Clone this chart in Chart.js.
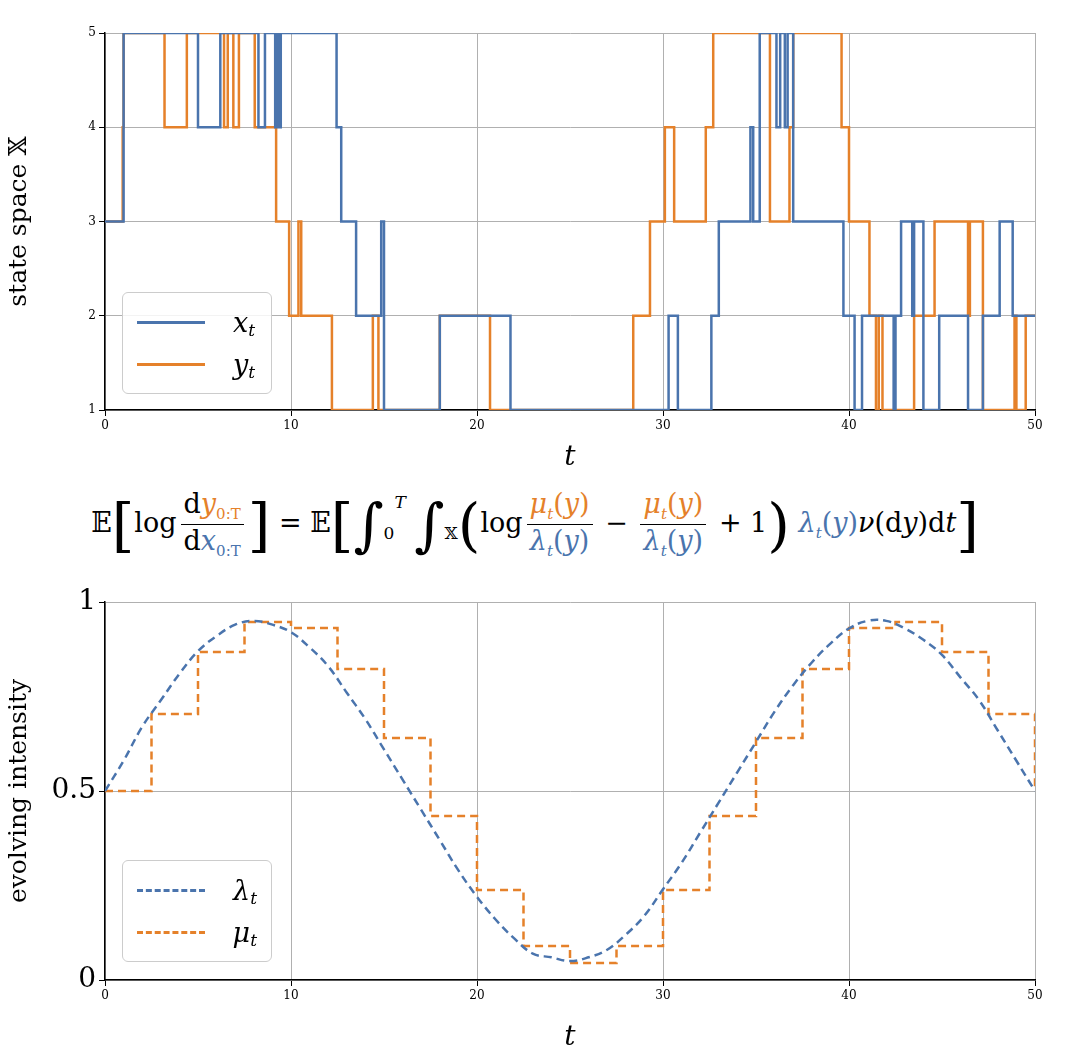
<!DOCTYPE html>
<html><head><meta charset="utf-8">
<script src="https://cdn.jsdelivr.net/npm/chart.js@4"></script>
<style>
body{margin:0;background:#fff;font-family:"DejaVu Serif","Liberation Serif",serif;}
#wrap{position:relative;width:1070px;height:1055px;}
canvas{position:absolute;left:0;}
.legend{position:absolute;border:1.5px solid #ccc;border-radius:6px;background:rgba(255,255,255,0.85);padding:8px 14px;font-size:27px;font-style:italic;}
.legend div{display:flex;align-items:center;height:42px;}
.legend span.l{display:inline-block;width:68px;height:0;border-top:3px solid;margin-right:28px;}
.legend sub{font-size:17px;position:relative;top:8px;}
#eq{position:absolute;top:488px;left:0;width:1070px;text-align:center;font-size:27px;line-height:1;}
.fr{display:inline-block;vertical-align:middle;text-align:center;margin:0 4px;}
.fr span{display:block;padding:2px 3px;}
.fr .n{border-bottom:1.5px solid #000;}
.b{color:#4a74ad}.o{color:#e5812a}
.big{font-size:58px;vertical-align:middle;font-weight:100}
</style></head>
<body><div id="wrap">
<canvas id="top" width="1070" height="475" style="top:0;width:1070px;height:475px"></canvas>
<canvas id="bot" width="1070" height="485" style="top:570px;width:1070px;height:485px"></canvas>
<div class="legend" style="left:122px;top:292px;width:120px"><div><span class="l" style="border-color:#4a74ad"></span>x<sub>t</sub></div><div><span class="l" style="border-color:#e5812a"></span>y<sub>t</sub></div></div>
<div class="legend" style="left:122px;top:860px;width:120px"><div><span class="l" style="border-color:#4a74ad;border-top-style:dashed"></span>λ<sub>t</sub></div><div><span class="l" style="border-color:#e5812a;border-top-style:dashed"></span>μ<sub>t</sub></div></div>
<div id="eq">𝔼<span class="big">[</span>log<span class="fr"><span class="n">d<i class="o">y</i><sub class="o" style="font-size:15px">0:T</sub></span><span>d<i class="b">x</i><sub class="b" style="font-size:15px">0:T</sub></span></span><span class="big">]</span> = 𝔼<span class="big">[</span><span class="big">∫</span><sub style="font-size:17px">0</sub><sup style="font-size:17px;vertical-align:24px"><i>T</i></sup> <span class="big">∫</span><sub style="font-size:17px">𝕏</sub><span class="big">(</span>log<span class="fr"><span class="n o"><i>μ<sub style="font-size:15px">t</sub></i>(<i>y</i>)</span><span class="b"><i>λ<sub style="font-size:15px">t</sub></i>(<i>y</i>)</span></span> − <span class="fr"><span class="n o"><i>μ<sub style="font-size:15px">t</sub></i>(<i>y</i>)</span><span class="b"><i>λ<sub style="font-size:15px">t</sub></i>(<i>y</i>)</span></span> + 1<span class="big">)</span> <span class="b"><i>λ<sub style="font-size:15px">t</sub></i>(<i>y</i>)</span><i>ν</i>(d<i>y</i>)d<i>t</i><span class="big">]</span></div>
</div>
<script>
var BLUE = '#4a74ad', ORANGE = '#e5812a';

// [time of jump, new state]
var xt = [[0,3],[1.0,5],[5.0,4],[6.2,5],[8.25,4],[8.6,5],[9.15,4],[9.25,5],[9.37,4],[9.45,5],[12.45,4],[12.7,3],[13.5,2],[14.85,3],[15.0,1],
  [18.0,2],[21.8,1],[30.3,2],[30.8,1],[32.6,2],[33.0,3],[34.7,4],[34.85,3],[35.2,5],[36.1,4],[36.3,5],[36.55,4],[36.7,5],[37.0,3],
  [39.7,2],[40.3,1],[40.7,2],[42.4,1],[42.5,2],[42.8,3],[43.4,2],[43.5,3],[44.0,1],[44.85,2],[46.4,1],[47.2,2],[48.1,3],[48.8,2],[50,2]];
var yt = [[0,3],[0.95,4],[1.0,5],[3.2,4],[4.4,5],[6.4,4],[6.6,5],[6.9,4],[7.2,5],[8.05,4],[9.2,3],[9.9,2],[10.4,3],[10.55,2],[12.2,1],
  [14.4,2],[14.7,1],[18.0,2],[20.7,1],[28.4,2],[29.3,3],[30.1,4],[30.6,3],[32.3,4],[32.7,5],[35.75,3],[36.8,4],[37.0,5],[39.6,4],
  [40.0,3],[41.1,2],[41.45,1],[41.6,2],[41.8,1],[43.5,2],[44.6,3],[46.4,2],[46.5,3],[47.2,1],[48.9,2],[49.0,1],[49.5,2],[50,2]];

var lam = [0.50,0.58,0.67,0.74,0.81,0.87,0.91,0.94,0.95,0.94,0.92,0.88,0.83,0.76,0.69,0.61,0.53,0.45,0.37,0.29,0.22,0.16,0.11,0.07,0.06,0.05,
  0.06,0.08,0.12,0.17,0.24,0.31,0.39,0.47,0.55,0.63,0.71,0.78,0.84,0.89,0.93,0.95,0.95,0.93,0.90,0.86,0.80,0.74,0.66,0.58,0.50];
var mu = [0.50,0.704,0.868,0.947,0.931,0.823,0.640,0.434,0.238,0.09,0.045,0.09,0.238,0.434,0.640,0.823,0.931,0.947,0.868,0.704];

function pts(a){ return a.map(function(p){ return {x:p[0], y:p[1]}; }); }
var muPts = mu.map(function(v,i){ return {x:i*2.5, y:v}; });
muPts.push({x:50, y:0.704}); muPts.push({x:50, y:0.5});

function axes(yopt, ytitle, xh){
  return {
    x: {type:'linear', min:0, max:50,
      ticks:{stepSize:10, color:'#000', font:{family:'DejaVu Serif', size:12}},
      grid:{color:'#b0b0b0', tickColor:'#000', tickLength:6},
      border:{color:'#000', width:1.5},
      title:{display:true, text:'t', color:'#000', font:{family:'DejaVu Serif', size:28, style:'italic'}, padding:0},
      afterFit:function(s){ s.height = xh; }},
    y: Object.assign({
      grid:{color:'#b0b0b0', tickColor:'#000', tickLength:6},
      border:{color:'#000', width:1.5},
      title:{display:true, text:ytitle, color:'#000', font:{family:'DejaVu Serif', size:25}},
      afterFit:function(s){ s.width = 105; }}, yopt)
  };
}

new Chart(document.getElementById('top'), {
  type:'line',
  data:{datasets:[
    {label:'x_t', data:pts(xt), borderColor:BLUE, borderWidth:2.5, stepped:'before', pointRadius:0},
    {label:'y_t', data:pts(yt), borderColor:ORANGE, borderWidth:2.5, stepped:'before', pointRadius:0}
  ]},
  options:{responsive:false, animation:false, parsing:false,
    layout:{padding:{top:33, right:35}},
    plugins:{legend:{display:false}, tooltip:{enabled:false}},
    scales:axes({min:1, max:5, ticks:{stepSize:1, color:'#000', font:{family:'DejaVu Serif', size:12}}}, 'state space 𝕏', 65)}
});

new Chart(document.getElementById('bot'), {
  type:'line',
  data:{datasets:[
    {label:'lambda', data:lam.map(function(v,i){ return {x:i, y:v}; }), borderColor:BLUE, borderWidth:2.5, borderDash:[8,5], tension:0.4, pointRadius:0},
    {label:'mu', data:muPts, borderColor:ORANGE, borderWidth:2.5, borderDash:[8,5], stepped:'before', pointRadius:0}
  ]},
  options:{responsive:false, animation:false, parsing:false,
    layout:{padding:{top:32, right:35}},
    plugins:{legend:{display:false}, tooltip:{enabled:false}},
    scales:axes({min:0, max:1, ticks:{stepSize:0.5, color:'#000', font:{family:'DejaVu Serif', size:28},
      callback:function(v){ return String(v); }}}, 'evolving intensity', 75)}
});
</script>
</body></html>
